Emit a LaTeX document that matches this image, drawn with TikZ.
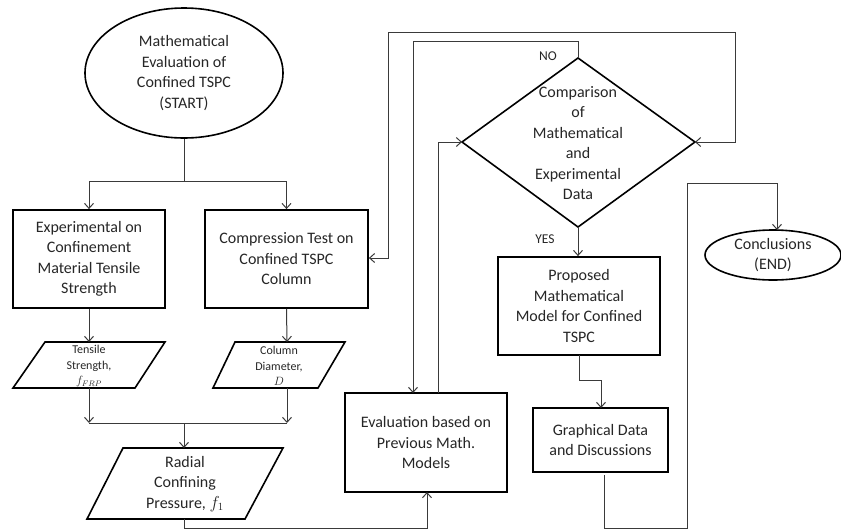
\documentclass[tikz,border=0pt]{standalone}
\usepackage{fontspec}
\setmainfont{Carlito}
\usetikzlibrary{arrows.meta,shapes.geometric,calc}
\definecolor{txt}{HTML}{262626}
\definecolor{ln}{HTML}{3A3A3A}
\begin{document}
\begin{tikzpicture}[x=1pt,y=-1pt,
  every node/.style={text=txt,font=\fontsize{16}{20.5}\selectfont,align=center,inner sep=0pt},
  box/.style={draw=black,line width=1.8pt,rectangle},
  oval/.style={draw=black,line width=1.6pt,ellipse},
  outline/.style={draw=black,line width=1.6pt,line join=miter},
  conn/.style={draw=ln,line width=1pt},
  arr/.style={conn,-{Straight Barb[length=5pt,width=9pt]}},
  small/.style={font=\fontsize{12}{15.5}\selectfont},
  lab/.style={font=\fontsize{13.5}{15}\selectfont}]
\useasboundingbox (0,0) rectangle (841,531);

% nodes
\node[oval,minimum width=198,minimum height=130] (start) at (184,73)
  {Mathematical\\Evaluation of\\Confined TSPC\\(START)};
\node[box,minimum width=152,minimum height=98] (b1) at (89,259)
  {Experimental on\\Confinement\\Material Tensile\\Strength};
\node[box,minimum width=163,minimum height=98] (b2) at (286.5,259)
  {Compression Test on\\Confined TSPC\\Column};
\node[box,minimum width=162,minimum height=99] (ev) at (426,442.5)
  {Evaluation based on\\Previous Math.\\Models};
\node[box,minimum width=162,minimum height=98] (pr) at (579,306)
  {Proposed\\Mathematical\\Model for Confined\\TSPC};
\node[box,minimum width=135,minimum height=64] (gr) at (600.5,440)
  {Graphical Data\\and Discussions};
\node[oval,minimum width=136,minimum height=50] (co) at (773,255)
  {Conclusions\\(END)};

% diamond
\coordinate (dT) at (578,58);
\coordinate (dB) at (578,227);
\coordinate (dL) at (462,142);
\coordinate (dR) at (695,142);
\draw[outline] (dT) -- (dR) -- (dB) -- (dL) -- cycle;
\node (dm) at (578,143) {Comparison\\of\\Mathematical\\and\\Experimental\\Data};

% parallelograms
\draw[outline] (45,342) -- (165,342) -- (135,388) -- (13,388) -- cycle;
\node[small] (p1) at (89,366) {Tensile\\Strength,\\$f_{FRP}$};
\coordinate (p1t) at (89,342);
\coordinate (p1b) at (89,388);
\draw[outline] (235,342) -- (345,342) -- (318,388) -- (213,388) -- cycle;
\node[small] (p2) at (279,366) {Column\\Diameter,\\$D$};
\coordinate (p2t) at (287,342);
\coordinate (p2b) at (287,388);
\draw[outline] (123,448) -- (283,448) -- (245,519) -- (87,519) -- cycle;
\node (p3) at (185,484) {Radial\\Confining\\Pressure, $f_1$};
\coordinate (p3t) at (184,448);
\coordinate (p3b) at (184,519);

% labels
\node[lab] (no) at (548,56) {NO};
\node[lab] (yes) at (545,239) {YES};

% connectors
\coordinate (s1) at (184,181);
\coordinate (j1) at (184,423);
\draw[conn] (start.south) -- (s1);
\draw[arr] (s1) -| (b1.north);
\draw[arr] (s1) -| (b2.north);
\draw[arr] (b1.south) -- (p1t);
\draw[arr] (b2.south) -- (p2t);
\draw[arr] (p1b) -- (89,423);
\draw[arr] (p2b) -- (287,423);
\draw[conn] (89,423) -- (287,423);
\draw[arr] (j1) -- (p3t);
\draw[arr] (p3b) -- (184,528) -- (427,528) -- (427,492);
\draw[arr] (dT) -- (578,41) -- (413,41) -- (413,393);
\draw[arr] (438,393) -- (438,142) -- (dL);
\draw[conn,{Straight Barb[length=5pt,width=9pt]}-{Straight Barb[length=5pt,width=9pt]}]
  (dR) -- (735,142) -- (735,32) -- (388,32) -- (388,258) -- (b2.east |- 0,258);
\draw[arr] (dB) -- (pr.north -| dB);
\draw[arr] (579,355) -- (579,380) -- (601,380) -- (601,408);
\draw[arr] (604,475) -- (604,528) -- (687,528) -- (687,183) -- (777,183) -- (777,230);
\end{tikzpicture}
\end{document}
